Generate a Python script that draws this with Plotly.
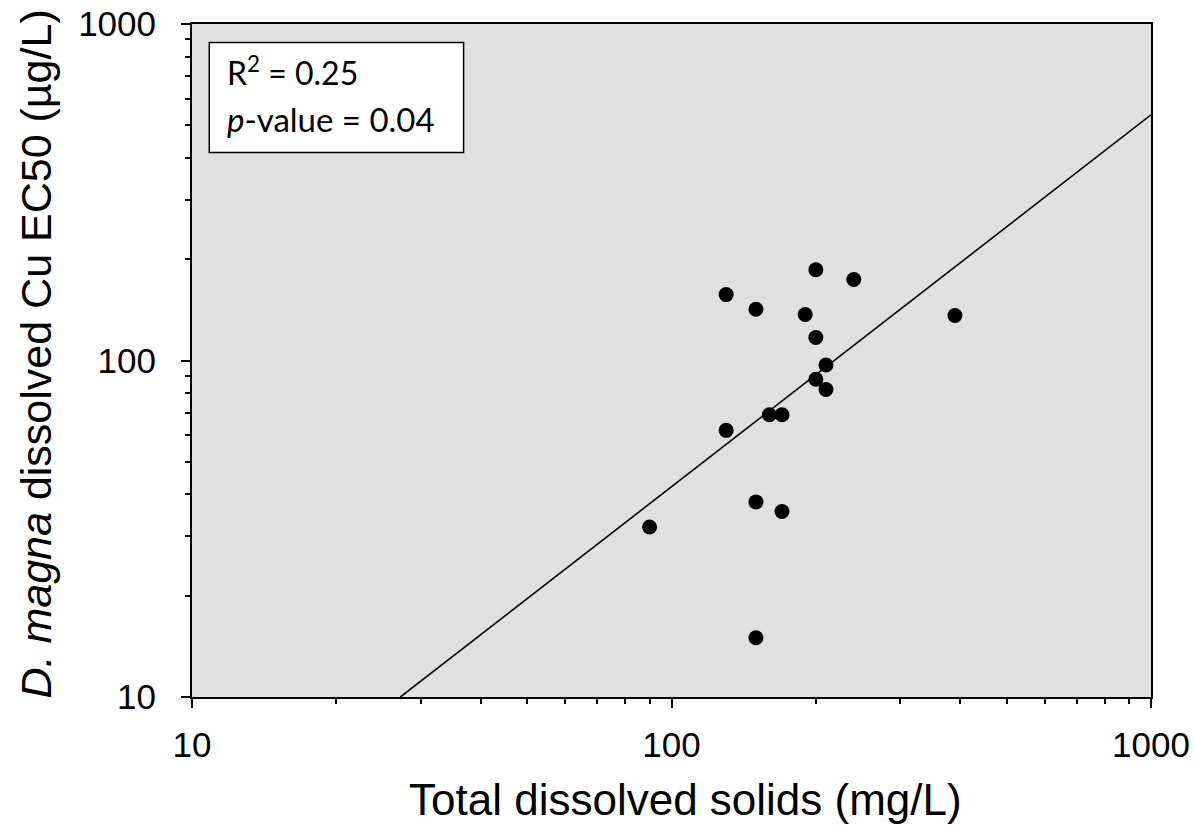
import plotly.graph_objects as go

# Data
tds = [200, 240, 130, 150, 190, 200, 210, 200, 210, 160, 170, 130, 150, 170, 150, 90, 390]
ec50 = [186, 174, 157, 142, 137, 117, 97, 88, 82, 69, 69, 62, 38, 35.6, 15, 32, 136]

# Regression line end points (log-log fit as drawn)
trend_x = [27.2, 1000]
trend_y = [10, 537]

tick_vals = [10, 100, 1000]
tick_text = ["10", "100", "1000"]

r2_text = "R<sup>2</sup> = 0.25"
p_text = "<i>p</i>-value = 0.04"

FONT = "Arial, Liberation Sans, sans-serif"
ANNOT_FONT = "Lato, Carlito, Calibri, sans-serif"

fig = go.Figure()
fig.add_trace(go.Scatter(x=trend_x, y=trend_y, mode="lines",
                         line=dict(color="black", width=1.6), hoverinfo="skip"))
fig.add_trace(go.Scatter(x=tds, y=ec50, mode="markers",
                         marker=dict(color="black", size=15, line=dict(width=0))))

axis_common = dict(
    type="log", showgrid=False, zeroline=False, automargin=False,
    showline=True, linecolor="black", linewidth=2, mirror=True,
    ticks="outside", ticklen=9, tickwidth=2, tickcolor="black",
    tickvals=tick_vals, ticktext=tick_text,
    tickfont=dict(family=FONT, size=35, color="black"),
    minor=dict(ticks="outside", ticklen=5, tickwidth=2, tickcolor="black",
               tickvals=[v * m for v in [10, 100] for m in range(2, 10)],
               showgrid=False),
)

fig.update_xaxes(range=[1, 3], ticklabelstandoff=7, **axis_common)
fig.update_yaxes(range=[1, 3], ticklabelstandoff=18, **axis_common)

fig.update_layout(
    width=1195, height=839,
    margin=dict(l=192, r=44, t=24, b=142),
    plot_bgcolor="#e0e0e0", paper_bgcolor="white",
    showlegend=False,
    font=dict(family=FONT, color="black"),
    shapes=[dict(type="rect", xref="paper", yref="paper",
                 x0=0.018, x1=0.2832, y0=0.809, y1=0.9726,
                 fillcolor="white", line=dict(color="black", width=1.5))],
    annotations=[
        dict(text=r2_text, xref="paper", yref="paper", x=0.0345, y=0.9305,
             xanchor="left", yanchor="middle", showarrow=False,
             font=dict(family=ANNOT_FONT, size=32, color="black")),
        dict(text=p_text, xref="paper", yref="paper", x=0.0345, y=0.8595,
             xanchor="left", yanchor="middle", showarrow=False,
             font=dict(family=ANNOT_FONT, size=33, color="black")),
        dict(text="Total dissolved solids (mg/L)", xref="paper", yref="paper",
             x=0.5, y=0, xanchor="center", yanchor="middle",
             xshift=14, yshift=-102, showarrow=False,
             font=dict(family=FONT, size=44, color="black")),
        dict(text="<i>D. magna</i> dissolved Cu EC50 (µg/L)", xref="paper", yref="paper",
             x=0, y=0.5, xanchor="center", yanchor="middle", textangle=-90,
             xshift=-157, yshift=6, showarrow=False,
             font=dict(family=FONT, size=43, color="black")),
    ],
)

fig.write_html("out.html")
